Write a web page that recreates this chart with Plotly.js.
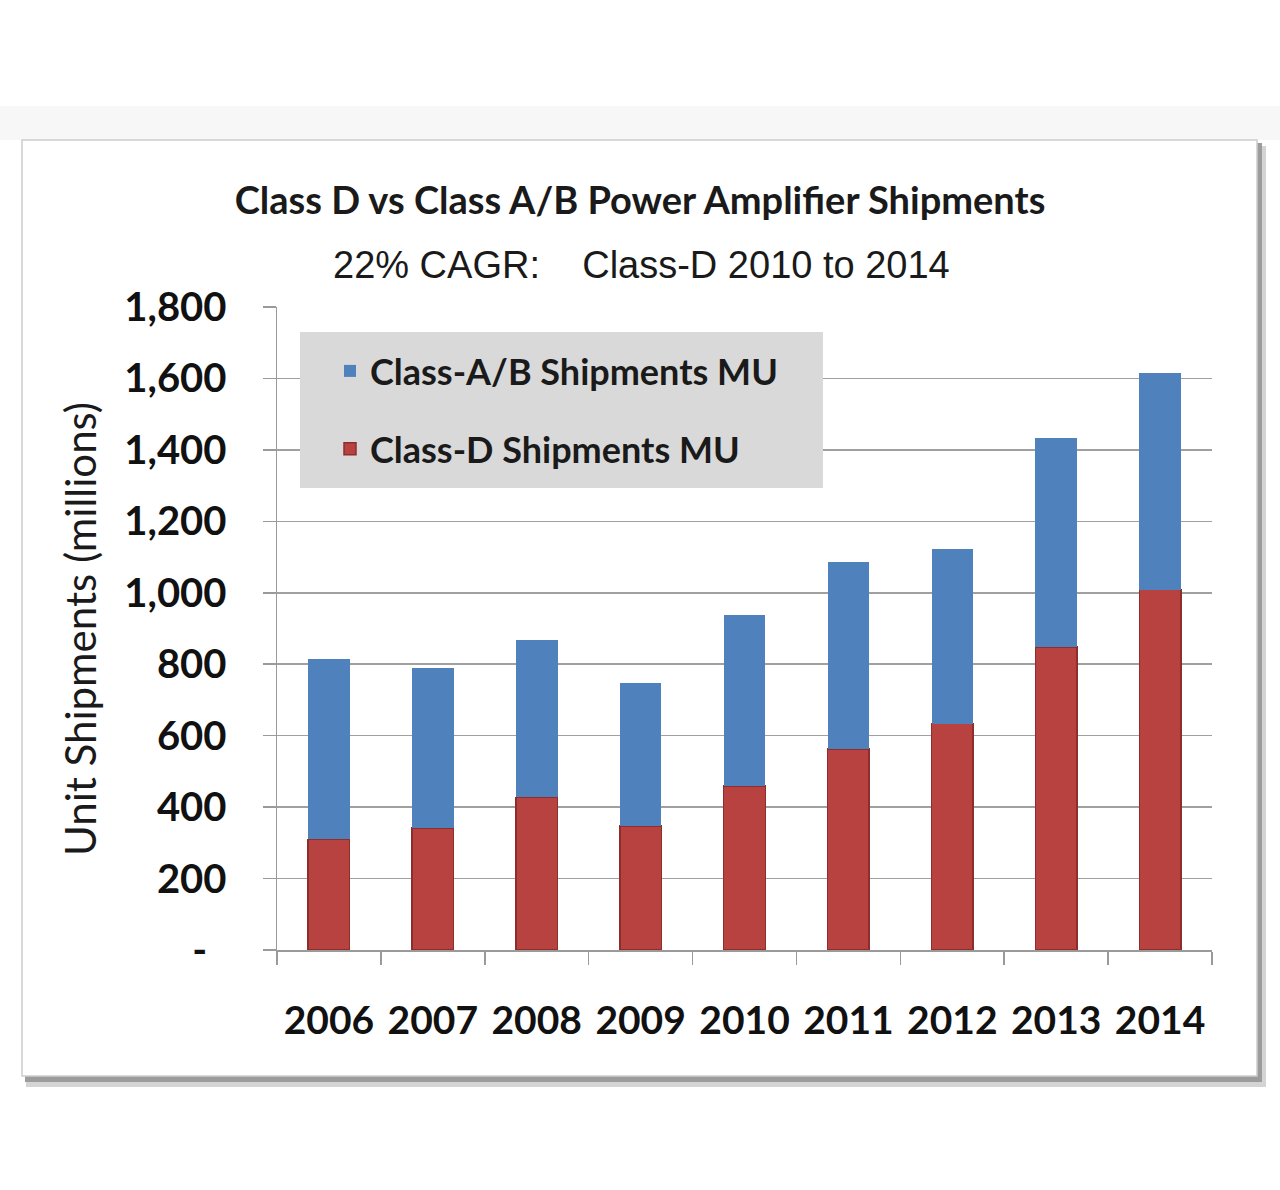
<!DOCTYPE html>
<html>
<head>
<meta charset="utf-8">
<script src="https://cdn.plot.ly/plotly-3.0.1.min.js"></script>
<style>html,body{margin:0;padding:0;background:#fff;}#chart{width:1280px;height:1190px;}</style>
</head>
<body>
<div id="chart"></div>
<script>
// ---- data ----
const years = ['2006','2007','2008','2009','2010','2011','2012','2013','2014'];
const classD = [310, 341, 427, 347, 459, 563, 634, 848, 1009];
const classAB = [505, 449, 442, 400, 480, 522, 488, 586, 607];
const yTickVals = [0, 200, 400, 600, 800, 1000, 1200, 1400, 1600, 1800];
const yTickText = ['-&nbsp;&nbsp;', '200', '400', '600', '800', '1,000', '1,200', '1,400', '1,600', '1,800'];
const titleText = 'Class D vs Class A/B Power Amplifier Shipments';
const subtitleText = '22% CAGR:&nbsp;&nbsp;&nbsp; Class-D 2010 to 2014';
const yTitleText = 'Unit Shipments (millions)';
const nameAB = 'Class-A/B Shipments MU';
const nameD = 'Class-D Shipments MU';

// ---- geometry helpers (pixel -> paper) ----
const W = 1280, H = 1190;
const L = 277, R = 1212, T = 307, B = 950;
const px = x => (x - L) / (R - L);
const py = y => (B - y) / (B - T);

const CAL = 'Lato, "Open Sans", sans-serif';
const ARIAL = '"Liberation Sans", Arial, sans-serif';

const traces = [
  {
    type: 'bar', x: years, y: classD, name: nameD,
    legendgroup: 'd', legendrank: 2,
    marker: {color: '#B8423F', line: {color: '#8E2E2C', width: 1.5}},
    hoverinfo: 'x+y+name'
  },
  {
    type: 'bar', x: years, y: classAB, name: nameAB,
    legendgroup: 'ab', legendrank: 1,
    marker: {color: '#4F81BD', line: {width: 0}},
    hoverinfo: 'x+y+name'
  }
];

const layout = {
  width: W, height: H,
  margin: {l: L, r: W - R, t: T, b: H - B, pad: 0},
  paper_bgcolor: '#ffffff',
  plot_bgcolor: 'rgba(0,0,0,0)',
  barmode: 'stack',
  bargap: 0.6,
  showlegend: true,
  title: {
    text: '<b>' + titleText + '</b>',
    font: {family: CAL, size: 38, color: '#1a1a1a'},
    xref: 'container', x: 0.5, xanchor: 'center',
    yref: 'container', y: 1 - 201 / H, yanchor: 'middle'
  },
  legend: {
    x: px(330), xanchor: 'left',
    y: py(341), yanchor: 'top',
    bgcolor: 'rgba(0,0,0,0)',
    borderwidth: 0,
    traceorder: 'grouped',
    tracegroupgap: 28,
    font: {family: CAL, size: 36, color: '#1a1a1a', weight: 'bold'},
    itemclick: false, itemdoubleclick: false
  },
  xaxis: {
    type: 'category',
    showgrid: false,
    showline: true, linecolor: '#9A9A9A', linewidth: 1.5,
    ticks: 'outside', tickson: 'boundaries', ticklen: 13, tickcolor: '#9A9A9A', tickwidth: 1.5,
    ticklabelstandoff: 36,
    tickfont: {family: CAL, size: 39, color: '#111', weight: 'bold'},
    fixedrange: true
  },
  yaxis: {
    range: [0, 1800],
    tickmode: 'array', tickvals: yTickVals, ticktext: yTickText,
    showgrid: true, gridcolor: '#A0A0A0', gridwidth: 1.5,
    zeroline: false,
    showline: true, linecolor: '#9A9A9A', linewidth: 1.5,
    ticks: 'outside', ticklen: 13, tickcolor: '#9A9A9A', tickwidth: 1.5,
    ticklabelstandoff: 28,
    tickfont: {family: CAL, size: 40, color: '#111', weight: 'bold'},
    fixedrange: true
  },
  annotations: [
    {
      text: subtitleText, showarrow: false,
      xref: 'paper', yref: 'paper', x: px(641), y: py(265),
      xanchor: 'center', yanchor: 'middle',
      font: {family: ARIAL, size: 38, color: '#1a1a1a'}
    },
    {
      text: yTitleText, showarrow: false, textangle: -90,
      xref: 'paper', yref: 'paper', x: px(80), y: py(629),
      xanchor: 'center', yanchor: 'middle',
      font: {family: CAL, size: 42, color: '#1a1a1a', weight: 'normal'}
    }
  ],
  shapes: [
    // faint top band
    {type: 'rect', xref: 'paper', yref: 'paper', layer: 'below',
     x0: px(0), x1: px(W), y0: py(106), y1: py(140),
     fillcolor: '#F7F7F7', line: {width: 0}},
    // outer shadow (soft)
    {type: 'rect', xref: 'paper', yref: 'paper', layer: 'below',
     x0: px(26), x1: px(1266), y0: py(1087), y1: py(146),
     fillcolor: '#D4D4D4', line: {width: 0}},
    // inner shadow (dark)
    {type: 'rect', xref: 'paper', yref: 'paper', layer: 'below',
     x0: px(25), x1: px(1262), y0: py(1082), y1: py(143),
     fillcolor: '#9C9C9C', line: {width: 0}},
    // chart frame
    {type: 'rect', xref: 'paper', yref: 'paper', layer: 'below',
     x0: px(22), x1: px(1257), y0: py(1076), y1: py(140),
     fillcolor: '#ffffff', line: {color: '#CDCDCD', width: 1.5}},
    // legend box
    {type: 'rect', xref: 'paper', yref: 'paper', layer: 'above',
     x0: px(300), x1: px(823), y0: py(488), y1: py(332),
     fillcolor: '#D9D9D9', line: {width: 0}}
  ]
};

Plotly.newPlot('chart', traces, layout, {displayModeBar: false, staticPlot: true});
</script>
</body>
</html>
